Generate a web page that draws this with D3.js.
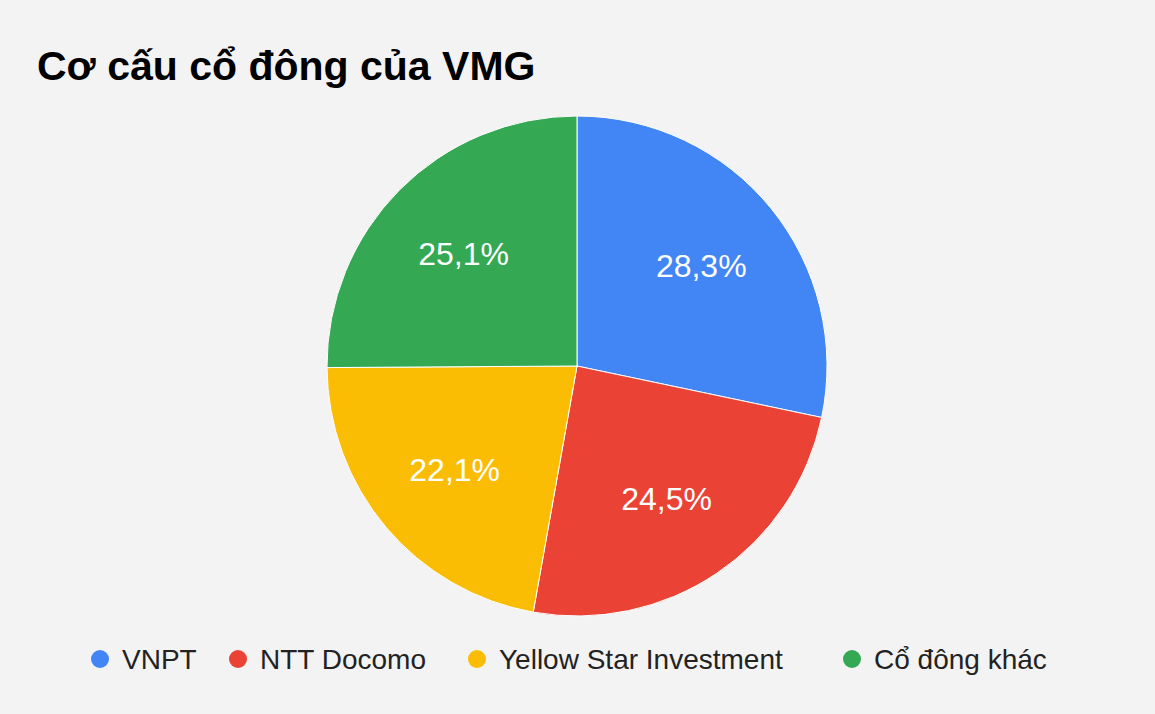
<!DOCTYPE html>
<html><head><meta charset="utf-8">
<script src="https://cdn.jsdelivr.net/npm/d3@7"></script>
<style>body{margin:0;background:#f3f3f3}</style></head>
<body><svg id="c" width="1155" height="714"></svg>
<script>
const categories = ["VNPT","NTT Docomo","Yellow Star Investment","Cổ đông khác"];
const values = [28.3,24.5,22.1,25.1];
const colors = ["#4285f4","#ea4335","#fbbc04","#34a853"];
const svg = d3.select("#c");
svg.append("rect").attr("width",1155).attr("height",714).attr("fill","#f3f3f3");
svg.append("text").attr("x",37).attr("y",80).attr("font-family","Liberation Sans, Arial").attr("font-weight","bold").attr("font-size",41).attr("fill","#000").text("Cơ cấu cổ đông của VMG");
const cx=577, cy=366, r=250;
const pie=d3.pie().sort(null).value(d=>d)(values);
const arc=d3.arc().innerRadius(0).outerRadius(r);
const lab=d3.arc().innerRadius(r*0.64).outerRadius(r*0.64);
const g=svg.append("g").attr("transform",`translate(${cx},${cy})`);
g.selectAll("path").data(pie).join("path").attr("d",arc).attr("fill",(d,i)=>colors[i]).attr("stroke","#fff").attr("stroke-width",1);
g.selectAll("text").data(pie).join("text").attr("transform",d=>`translate(${lab.centroid(d)})`)
 .attr("text-anchor","middle").attr("dy","0.36em").attr("font-family","Liberation Sans, Arial").attr("font-size",32).attr("fill","#fff")
 .text(d=>d.data.toFixed(1).replace(".",",")+"%");
const lx=[100,238,477,852];
const lg=svg.append("g");
categories.forEach((c,i)=>{
 lg.append("circle").attr("cx",lx[i]).attr("cy",659).attr("r",9).attr("fill",colors[i]);
 lg.append("text").attr("x",lx[i]+22).attr("y",669).attr("font-family","Liberation Sans, Arial").attr("font-size",28).attr("fill","#222").text(c);
});
</script></body></html>
